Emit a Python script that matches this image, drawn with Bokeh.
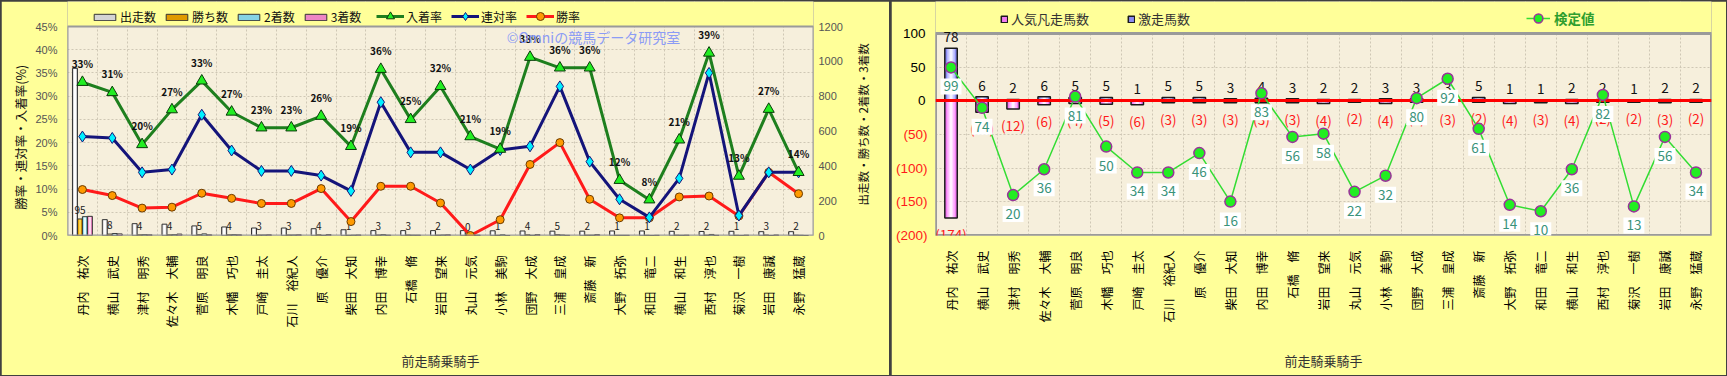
import math
from bokeh.plotting import figure
from bokeh.models import (FactorRange, Range1d, LinearAxis, FixedTicker, Legend, LegendItem,
                          ColumnDataSource, Label, PrintfTickFormatter)
from bokeh.transform import dodge
from bokeh.layouts import row
from bokeh.embed import file_html
from bokeh.resources import INLINE
from bokeh.core.properties import value

JP = "Noto Sans CJK JP"

# ---------------- data ----------------
jockeys = ["丹内　祐次", "横山　武史", "津村　明秀", "佐々木　大輔", "菅原　明良", "木幡　巧也",
           "戸崎　圭太", "石川　裕紀人", "原　優介", "柴田　大知", "内田　博幸", "石橋　脩",
           "岩田　望来", "丸山　元気", "小林　美駒", "団野　大成", "三浦　皇成", "斎藤　新",
           "大野　拓弥", "和田　竜二", "横山　和生", "西村　淳也", "菊沢　一樹", "岩田　康誠", "永野　猛蔵"]

starts = [960, 91, 68, 65, 55, 49, 43, 43, 39, 33, 28, 28, 28, 28, 27, 26, 25, 25, 26, 26, 24, 23, 24, 22, 22]
wins = [95, 8, 4, 4, 5, 4, 3, 3, 4, 1, 3, 3, 2, 0, 1, 4, 5, 2, 1, 1, 2, 2, 1, 3, 2]
seconds = [108, 11, 5, 5, 9, 5, 3, 3, 1, 2, 5, 2, 3, 4, 4, 1, 3, 2, 1, 0, 1, 6, 0, 0, 1]
thirds = [110, 9, 4, 8, 4, 4, 4, 4, 5, 3, 2, 2, 4, 2, 0, 5, 1, 5, 1, 1, 2, 1, 2, 3, 0]

win_rate = [9.9, 8.6, 5.9, 6.1, 9.1, 8.0, 6.9, 6.9, 10.1, 3.0, 10.6, 10.6, 7.0, 0.0, 3.4,
            15.3, 20.0, 7.8, 3.8, 3.8, 8.3, 8.5, 4.2, 13.6, 9.0]
rentai_rate = [21.3, 21.0, 13.6, 14.2, 26.0, 18.3, 13.9, 13.9, 12.9, 9.6, 28.7, 17.9, 17.9, 14.2, 18.4,
               19.2, 32.1, 15.9, 7.8, 3.9, 12.3, 35.0, 4.3, 13.6, 13.6]
place_rate = [33.0, 30.8, 19.6, 27.1, 33.3, 26.6, 23.2, 23.2, 25.7, 19.2, 35.8, 25.0, 32.1, 21.3, 18.6,
              38.4, 36.1, 36.1, 11.9, 7.7, 20.6, 39.3, 12.8, 27.2, 13.6]

gekiso = [78, 6, 2, 6, 5, 5, 1, 5, 5, 3, 4, 3, 2, 2, 3, 3, 3, 5, 1, 1, 2, 2, 1, 2, 2]
bonso = [174, 17, 12, 6, 4, 5, 6, 3, 3, 3, 3, 3, 4, 2, 4, 2, 3, 2, 4, 3, 4, 2, 2, 3, 2]
kentei = [99, 74, 20, 36, 81, 50, 34, 34, 46, 16, 83, 56, 58, 22, 32, 80, 92, 61, 14, 10, 36, 82, 13, 56, 34]

pct_ticks = [0, 5, 10, 15, 20, 25, 30, 35, 40, 45]
count_ticks = [0, 200, 400, 600, 800, 1000, 1200]
pos_ticks = [0, 50, 100]
neg_ticks = [-50, -100, -150, -200]

# ---------------- layout constants ----------------
PANEL = "#FFFF99"
PLOTBG = "#F6EFDC"
GRID = "#CFC7B5"
H = 374
BOTTOM = 140
FRAME_H = H - BOTTOM            # frame spans the whole top; the legend strip lives inside it
L_PLOT_H = 209                  # pixel height of the real left plot area
R_PLOT_H = 202                  # pixel height of the real right plot area
TITLE_START_PX = 30             # right-axis title starts this far above the frame bottom
n = len(jockeys)

PCT_MAX = 45
CNT_MAX = 1200
pct_end = PCT_MAX * FRAME_H / L_PLOT_H
cnt_end = CNT_MAX * FRAME_H / L_PLOT_H

Y_MIN, Y_MAX = -200, 100
y_end = Y_MIN + (Y_MAX - Y_MIN) * FRAME_H / R_PLOT_H
K_MIN, K_MAX = -5, 120
k_end = K_MIN + (K_MAX - K_MIN) * FRAME_H / R_PLOT_H

src = ColumnDataSource(dict(
    jockey=jockeys, starts=starts, wins=wins, seconds=seconds, thirds=thirds,
    win_rate=win_rate, rentai_rate=rentai_rate, place_rate=place_rate,
    wins_label=[str(w) for w in wins],
    place_label=[f"{v:.0f}%" for v in place_rate],
))

# ================= LEFT PANEL =================
p1 = figure(width=888, height=H, x_range=FactorRange(*jockeys), y_range=Range1d(0, pct_end),
            output_backend="svg", toolbar_location=None,
            min_border_left=66, min_border_right=76, min_border_top=0, min_border_bottom=BOTTOM,
            background_fill_color=PLOTBG, border_fill_color=PANEL, outline_line_color=None)
p1.extra_y_ranges = {"count": Range1d(0, cnt_end)}

p1.hstrip(y0=[PCT_MAX], y1=[pct_end], fill_color=PANEL, line_color=None)

bar_specs = [("starts", -0.25, "#D4D4D4", "#FFFFFF", "出走数"),
             ("wins", -0.083, "#E09A00", "#FFD54A", "勝ち数"),
             ("seconds", 0.083, "#86D3E4", "#E4FCFF", "2着数"),
             ("thirds", 0.25, "#EE86C4", "#FFD9EF", "3着数")]
bw = 0.167
bar_items = []
for col, off, c_out, c_in, lab in bar_specs:
    xd = dodge("jockey", off, range=p1.x_range)
    r_out = p1.vbar(x=xd, top=col, bottom=0, width=bw, source=src, y_range_name="count",
                    fill_color=c_out, line_color=None)
    p1.vbar(x=xd, top=col, bottom=0, width=bw * 0.45, source=src, y_range_name="count",
            fill_color=c_in, line_color=None)
    r_ol = p1.vbar(x=xd, top=col, bottom=0, width=bw, source=src, y_range_name="count",
                   fill_alpha=0, line_color="#333333", line_width=1)
    bar_items.append(LegendItem(label=lab, renderers=[r_out, r_ol]))

p1.text(x=dodge("jockey", -0.083, range=p1.x_range), y="wins", text="wins_label", source=src,
        y_range_name="count", text_font=value(JP), text_font_size="10px", text_color="#222222",
        text_align="center", text_baseline="bottom", y_offset=-5)

r_wl = p1.line("jockey", "win_rate", source=src, line_color="#FF1A1A", line_width=3)
r_wp = p1.scatter("jockey", "win_rate", source=src, marker="circle", size=8,
                  fill_color="#FF9A00", line_color="#6B3A00", line_width=1)
r_rl = p1.line("jockey", "rentai_rate", source=src, line_color="#14147A", line_width=3)
r_rp = p1.scatter("jockey", "rentai_rate", source=src, marker="diamond", size=11,
                  fill_color="#00F0FF", line_color="#14147A", line_width=1)
r_pl = p1.line("jockey", "place_rate", source=src, line_color="#1E7F1E", line_width=3)
r_pp = p1.scatter("jockey", "place_rate", source=src, marker="triangle", size=11,
                  fill_color="#22EE22", line_color="#0A3A0A", line_width=1)

p1.text(x="jockey", y="place_rate", text="place_label", source=src, text_font=value(JP),
        text_font_size="10px", text_font_style="bold", text_color="#111111",
        text_align="center", text_baseline="bottom", y_offset=-11)

p1.quad(left=[0], right=[n], bottom=[0], top=[PCT_MAX], fill_color=None,
        line_color="#9A9A9A", line_width=2)

# axes
p1.yaxis.ticker = FixedTicker(ticks=pct_ticks)
p1.yaxis.formatter = PrintfTickFormatter(format="%d%%")
p1.yaxis.axis_label = "勝率・連対率・入着率(%)" + "\u3000" * 3
p1.yaxis.axis_label_text_font = JP
p1.yaxis.axis_label_text_font_size = "12.5px"
p1.yaxis.axis_label_text_font_style = "normal"
p1.yaxis.axis_label_text_color = "#111111"
p1.yaxis.axis_label_standoff = 2
p1.yaxis.major_label_text_font = "Liberation Sans"
p1.yaxis.major_label_text_font_size = "11px"
p1.yaxis.major_label_text_color = "#555555"
p1.yaxis.major_label_standoff = 10
p1.yaxis.major_tick_out = 0
p1.yaxis.major_tick_in = 0
p1.yaxis.major_tick_line_color = None
p1.yaxis.minor_tick_line_color = None
p1.yaxis.axis_line_color = None

ax_r = LinearAxis(y_range_name="count", ticker=FixedTicker(ticks=count_ticks),
                  major_label_text_font="Liberation Sans", major_label_text_font_size="11px",
                  major_label_text_color="#555555", major_label_standoff=5,
                  major_tick_out=0, major_tick_in=0,
                  major_tick_line_color=None, minor_tick_line_color=None, axis_line_color=None)
p1.add_layout(ax_r, "right")

# right-hand title drawn as a single rotated tick label (reads bottom to top)
title_pos = round(TITLE_START_PX / FRAME_H * cnt_end)
ax_t = LinearAxis(y_range_name="count", ticker=FixedTicker(ticks=[title_pos]),
                  major_label_overrides={title_pos: "出走数・勝ち数・2着数・3着数"},
                  major_label_orientation=math.pi / 2,
                  major_label_text_font=JP, major_label_text_font_size="11.5px",
                  major_label_text_color="#111111", major_label_standoff=18,
                  major_tick_out=0, major_tick_in=0,
                  major_tick_line_color=None, minor_tick_line_color=None, axis_line_color=None)
p1.add_layout(ax_t, "right")

p1.xaxis.major_label_orientation = math.pi / 2
p1.xaxis.major_label_text_font = JP
p1.xaxis.major_label_text_font_size = "12px"
p1.xaxis.major_label_text_color = "#000000"
p1.xaxis.major_label_standoff = 14
p1.xaxis.major_tick_line_color = None
p1.xaxis.axis_line_color = None
p1.xaxis.axis_label = "前走騎乗騎手"
p1.xaxis.axis_label_text_font = JP
p1.xaxis.axis_label_text_font_size = "13px"
p1.xaxis.axis_label_text_font_style = "normal"
p1.xaxis.axis_label_text_color = "#333333"
p1.xaxis.axis_label_standoff = 20

p1.ygrid.ticker = FixedTicker(ticks=pct_ticks)
p1.xgrid.ticker = FixedTicker(ticks=list(range(1, n)))
p1.grid.grid_line_color = GRID
p1.grid.grid_line_dash = "2 2"
p1.grid.grid_line_width = 1

leg1 = Legend(items=bar_items, orientation="horizontal", location=(24, 210),
              glyph_width=27, glyph_height=8, label_height=12, label_standoff=2, spacing=7,
              padding=0, margin=0, border_line_color=None, background_fill_alpha=0,
              label_text_font=JP, label_text_font_size="12px", label_text_color="#111111")
leg2 = Legend(items=[LegendItem(label="入着率", renderers=[r_pl, r_pp]),
                     LegendItem(label="連対率", renderers=[r_rl, r_rp]),
                     LegendItem(label="勝率", renderers=[r_wl, r_wp])],
              orientation="horizontal", location=(309, 209),
              glyph_width=28, glyph_height=20, label_height=12, label_standoff=2, spacing=9,
              padding=0, margin=0, border_line_color=None, background_fill_alpha=0,
              label_text_font=JP, label_text_font_size="12px", label_text_color="#111111")
p1.add_layout(leg1)
p1.add_layout(leg2)

p1.add_layout(Label(x=526, y=199, x_units="screen", y_units="screen", text="©Omniの競馬データ研究室",
                    text_font=JP, text_font_size="14px", text_color="#8C9CF5",
                    text_align="center", text_baseline="middle"))

# ================= RIGHT PANEL =================
src2 = ColumnDataSource(dict(
    jockey=jockeys, gekiso=gekiso, bonso_neg=[-v for v in bonso], kentei=kentei,
    gekiso_label=[str(v) for v in gekiso],
    bonso_label=[f"({v})" for v in bonso],
    kentei_label=[str(v) for v in kentei],
))

p2 = figure(width=835, height=H, x_range=FactorRange(*jockeys), y_range=Range1d(Y_MIN, y_end),
            output_backend="svg", toolbar_location=None,
            min_border_left=44, min_border_right=15, min_border_top=0, min_border_bottom=BOTTOM,
            background_fill_color=PLOTBG, border_fill_color=PANEL, outline_line_color=None)
p2.extra_y_ranges = {"kentei": Range1d(K_MIN, k_end)}

p2.hstrip(y0=[Y_MAX], y1=[y_end], fill_color=PANEL, line_color=None)

bw2 = 0.4
g_fill = p2.vbar(x="jockey", top="gekiso", bottom=0, width=bw2, source=src2,
                 fill_color="#8C8CF2", line_color=None)
p2.vbar(x="jockey", top="gekiso", bottom=0, width=bw2 * 0.6, source=src2,
        fill_color="#C8C8FF", line_color=None)
p2.vbar(x="jockey", top="gekiso", bottom=0, width=bw2 * 0.25, source=src2,
        fill_color="#F2F2FF", line_color=None)
g_ol = p2.vbar(x="jockey", top="gekiso", bottom=0, width=bw2, source=src2,
               fill_alpha=0, line_color="#1A1A1A", line_width=1.5)

b_fill = p2.vbar(x="jockey", top=0, bottom="bonso_neg", width=bw2, source=src2,
                 fill_color="#F27CF2", line_color=None)
p2.vbar(x="jockey", top=0, bottom="bonso_neg", width=bw2 * 0.6, source=src2,
        fill_color="#FFB8FF", line_color=None)
p2.vbar(x="jockey", top=0, bottom="bonso_neg", width=bw2 * 0.25, source=src2,
        fill_color="#FFF0FF", line_color=None)
b_ol = p2.vbar(x="jockey", top=0, bottom="bonso_neg", width=bw2, source=src2,
               fill_alpha=0, line_color="#1A1A1A", line_width=1.5)

p2.quad(left=[0], right=[n], bottom=[Y_MIN], top=[Y_MAX], fill_color=None,
        line_color="#9A9A9A", line_width=3)

p2.text(x="jockey", y="gekiso", text="gekiso_label", source=src2, text_font=value(JP),
        text_font_size="13.5px", text_color="#111111", text_align="center",
        text_baseline="bottom", y_offset=-6)
p2.text(x="jockey", y="bonso_neg", text="bonso_label", source=src2, text_font=value(JP),
        text_font_size="13.5px", text_color="#FF1A1A", text_align="center",
        text_baseline="top", y_offset=6)

p2.hspan(y=[0], line_color="#FF0000", line_width=3)

k_line = p2.line("jockey", "kentei", source=src2, y_range_name="kentei",
                 line_color="#33DD33", line_width=1.5)
p2.text(x="jockey", y="kentei", text="kentei_label", source=src2, y_range_name="kentei",
        text_font=value(JP), text_font_size="13.5px", text_color="#3A937A",
        text_align="center", text_baseline="middle", y_offset=19,
        background_fill_color="white", padding=3)
k_pt = p2.scatter("jockey", "kentei", source=src2, y_range_name="kentei", marker="circle",
                  size=11, fill_color="#22EE22", line_color="#993399", line_width=1.5)

p2.yaxis.ticker = FixedTicker(ticks=pos_ticks)
p2.yaxis.major_label_text_font = "Liberation Sans"
p2.yaxis.major_label_text_font_size = "13.5px"
p2.yaxis.major_label_text_color = "#000000"
p2.yaxis.major_label_standoff = 10
p2.yaxis.major_tick_out = 0
p2.yaxis.major_tick_in = 0
p2.yaxis.major_tick_line_color = None
p2.yaxis.minor_tick_line_color = None
p2.yaxis.axis_line_color = None

ax_neg = LinearAxis(ticker=FixedTicker(ticks=neg_ticks),
                    major_label_overrides={t: f"({-t})" for t in neg_ticks},
                    major_label_text_font="Liberation Sans", major_label_text_font_size="13.5px",
                    major_label_text_color="#FF1A1A", major_label_standoff=-28,
                    major_tick_out=0, major_tick_in=0,
                    major_tick_line_color=None, minor_tick_line_color=None, axis_line_color=None)
p2.add_layout(ax_neg, "left")

p2.xaxis.major_label_orientation = math.pi / 2
p2.xaxis.major_label_text_font = JP
p2.xaxis.major_label_text_font_size = "12px"
p2.xaxis.major_label_text_color = "#000000"
p2.xaxis.major_label_standoff = 9
p2.xaxis.major_tick_line_color = None
p2.xaxis.axis_line_color = None
p2.xaxis.axis_label = "前走騎乗騎手"
p2.xaxis.axis_label_text_font = JP
p2.xaxis.axis_label_text_font_size = "13px"
p2.xaxis.axis_label_text_font_style = "normal"
p2.xaxis.axis_label_text_color = "#333333"
p2.xaxis.axis_label_standoff = 25

p2.ygrid.ticker = FixedTicker(ticks=neg_ticks + pos_ticks)
p2.xgrid.ticker = FixedTicker(ticks=list(range(1, n)))
p2.grid.grid_line_color = GRID
p2.grid.grid_line_dash = "2 2"
p2.grid.grid_line_width = 1

leg3 = Legend(items=[LegendItem(label="人気凡走馬数", renderers=[b_fill, b_ol]),
                     LegendItem(label="激走馬数", renderers=[g_fill, g_ol])],
              orientation="horizontal", location=(65, 207),
              glyph_width=8, glyph_height=8, label_height=14, label_standoff=3, spacing=38,
              padding=0, margin=0, border_line_color=None, background_fill_alpha=0,
              label_text_font=JP, label_text_font_size="13px", label_text_color="#333333")
leg4 = Legend(items=[LegendItem(label="検定値", renderers=[k_line, k_pt])],
              orientation="horizontal", location=(591, 206),
              glyph_width=24, glyph_height=22, label_height=14, label_standoff=4,
              padding=0, margin=0, border_line_color=None, background_fill_alpha=0,
              label_text_font=JP, label_text_font_size="13.5px", label_text_font_style="bold",
              label_text_color="#2E9E2E")
p2.add_layout(leg3)
p2.add_layout(leg4)

layout = row(p1, p2, spacing=2,
             styles={"background-color": "#404040", "padding": "1px"})

open("out.html", "w").write(file_html(layout, INLINE))
